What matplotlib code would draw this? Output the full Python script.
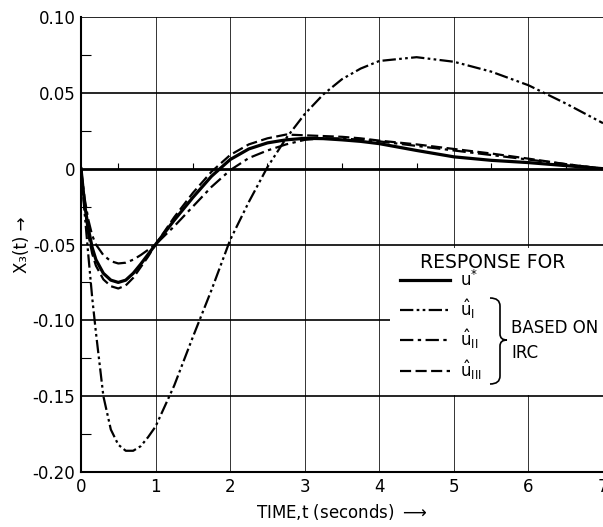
import matplotlib
matplotlib.use('Agg')
import numpy as np
import matplotlib.pyplot as plt
from matplotlib.patches import Rectangle, PathPatch
from matplotlib.path import Path

# time samples (seconds)
t = [0, 0.05, 0.1, 0.15, 0.2, 0.3, 0.4, 0.5, 0.6, 0.7, 0.8, 0.9, 1.0,
     1.25, 1.5, 1.75, 2.0, 2.25, 2.5, 2.75, 3.0, 3.25, 3.5, 3.75, 4.0,
     4.5, 5.0, 5.5, 6.0, 6.5, 7.0]

u_star = [0, -0.024, -0.040, -0.052, -0.060, -0.069, -0.0735, -0.075, -0.0735,
          -0.069, -0.063, -0.0565, -0.050, -0.034, -0.019, -0.005, 0.006,
          0.013, 0.017, 0.019, 0.020, 0.0198, 0.019, 0.018, 0.0165, 0.012,
          0.0078, 0.0055, 0.004, 0.002, 0.0]
u_1 = [0, -0.030, -0.058, -0.085, -0.108, -0.150, -0.172, -0.182, -0.186,
       -0.186, -0.183, -0.177, -0.170, -0.143, -0.111, -0.080, -0.047,
       -0.022, 0.001, 0.020, 0.036, 0.049, 0.059, 0.066, 0.071, 0.0735,
       0.0705, 0.064, 0.055, 0.043, 0.030]
u_2 = [0, -0.020, -0.034, -0.044, -0.050, -0.057, -0.061, -0.0625, -0.062,
       -0.060, -0.057, -0.0535, -0.050, -0.038, -0.025, -0.012, -0.001,
       0.007, 0.012, 0.016, 0.019, 0.020, 0.020, 0.019, 0.018, 0.015,
       0.012, 0.009, 0.006, 0.003, 0.0]
u_3 = [0, -0.026, -0.044, -0.056, -0.064, -0.073, -0.0775, -0.079, -0.077,
       -0.072, -0.065, -0.058, -0.050, -0.032, -0.016, -0.002, 0.009,
       0.016, 0.020, 0.0225, 0.022, 0.0215, 0.021, 0.020, 0.0185, 0.016,
       0.013, 0.010, 0.0066, 0.003, 0.0]

xticks = [0, 1, 2, 3, 4, 5, 6, 7]
yticks = [-0.20, -0.15, -0.10, -0.05, 0, 0.05, 0.10]
ylabels = ['-0.20', '-0.15', '-0.10', '-0.05', '0', '0.05', '0.10']

fig = plt.figure(figsize=(6.03, 5.27), dpi=100)
ax = fig.add_axes([81/603, 1-472/527, 1-81/603, 455/527])
ax.set_xlim(0, 7)
ax.set_ylim(-0.20, 0.10)

# grid
for x in xticks[1:-1]:
    ax.axvline(x, color='#333333', lw=0.7, zorder=1)
for y in yticks[1:]:
    ax.axhline(y, color='black', lw=2.0 if y == 0 else 1.2, zorder=1)
ax.vlines(np.arange(0.5, 7, 1), 0, 0.0035, color='black', lw=0.8, zorder=1)

ax.plot(t, u_star, color='black', lw=2.3, ls='-', label=r'$\mathrm{u}^{*}$', zorder=3)
ax.plot(t, u_1, color='black', lw=1.6, ls=(0, (6, 1.5, 1.2, 1.5, 1.2, 1.5)),
        label=r'$\hat{\mathrm{u}}_{\mathrm{I}}$', zorder=3)
ax.plot(t, u_2, color='black', lw=1.6, ls=(0, (6, 2, 1.5, 2)),
        label=r'$\hat{\mathrm{u}}_{\mathrm{II}}$', zorder=3)
ax.plot(t, u_3, color='black', lw=1.6, ls=(0, (5, 2)),
        label=r'$\hat{\mathrm{u}}_{\mathrm{III}}$', zorder=3)

ax.set_xticks(xticks)
ax.set_xticklabels([str(x) for x in xticks])
ax.set_yticks(yticks)
ax.set_yticklabels(ylabels)
ax.set_yticks(np.arange(-0.175, 0.1, 0.05), minor=True)
ax.tick_params(axis='both', which='major', length=0, labelsize=12, pad=4)
ax.tick_params(axis='y', which='minor', direction='in', length=7, width=0.8)
for s in ['top', 'right']:
    ax.spines[s].set_visible(False)
for s in ['left', 'bottom']:
    ax.spines[s].set_linewidth(1.5)

ax.set_xlabel(r'TIME,t (seconds) $\longrightarrow$', fontsize=12, labelpad=5)
ax.set_ylabel('X\u2083(t) \u2192', fontsize=12)
ax.yaxis.set_label_coords(-0.095, 0.5)

# legend area
bx = lambda px: (px - 81) / 522
by = lambda py: (472 - py) / 455
ax.add_patch(Rectangle((0.592, 0.17), 0.41, 0.322, transform=ax.transAxes,
                       facecolor='white', edgecolor='none', zorder=2))
ax.text(bx(493), by(262), 'RESPONSE FOR', transform=ax.transAxes,
        fontsize=13.5, ha='center', va='center', zorder=4)
leg = ax.legend(loc='upper left', bbox_to_anchor=(bx(400), by(270)),
                frameon=False, fontsize=12, handlelength=3.0,
                handletextpad=0.6, labelspacing=0.42, borderpad=0,
                borderaxespad=0)
leg.set_zorder(4)

# brace
verts = [(bx(490), by(298)), (bx(500), by(298)), (bx(500), by(306)),
         (bx(500), by(334)), (bx(500), by(340)), (bx(507), by(340)),
         (bx(500), by(340)), (bx(500), by(346)),
         (bx(500), by(376)), (bx(500), by(384)), (bx(490), by(384))]
codes = [Path.MOVETO, Path.CURVE3, Path.CURVE3, Path.LINETO, Path.CURVE3,
         Path.CURVE3, Path.CURVE3, Path.CURVE3, Path.LINETO, Path.CURVE3,
         Path.CURVE3]
ax.add_patch(PathPatch(Path(verts, codes), transform=ax.transAxes,
                       facecolor='none', edgecolor='black', lw=1.2, zorder=4))
ax.text(bx(511), by(328), 'BASED ON', transform=ax.transAxes, fontsize=12,
        va='center', ha='left', zorder=4)
ax.text(bx(511), by(353), 'IRC', transform=ax.transAxes, fontsize=12,
        va='center', ha='left', zorder=4)

plt.savefig('out.png', dpi=100)
